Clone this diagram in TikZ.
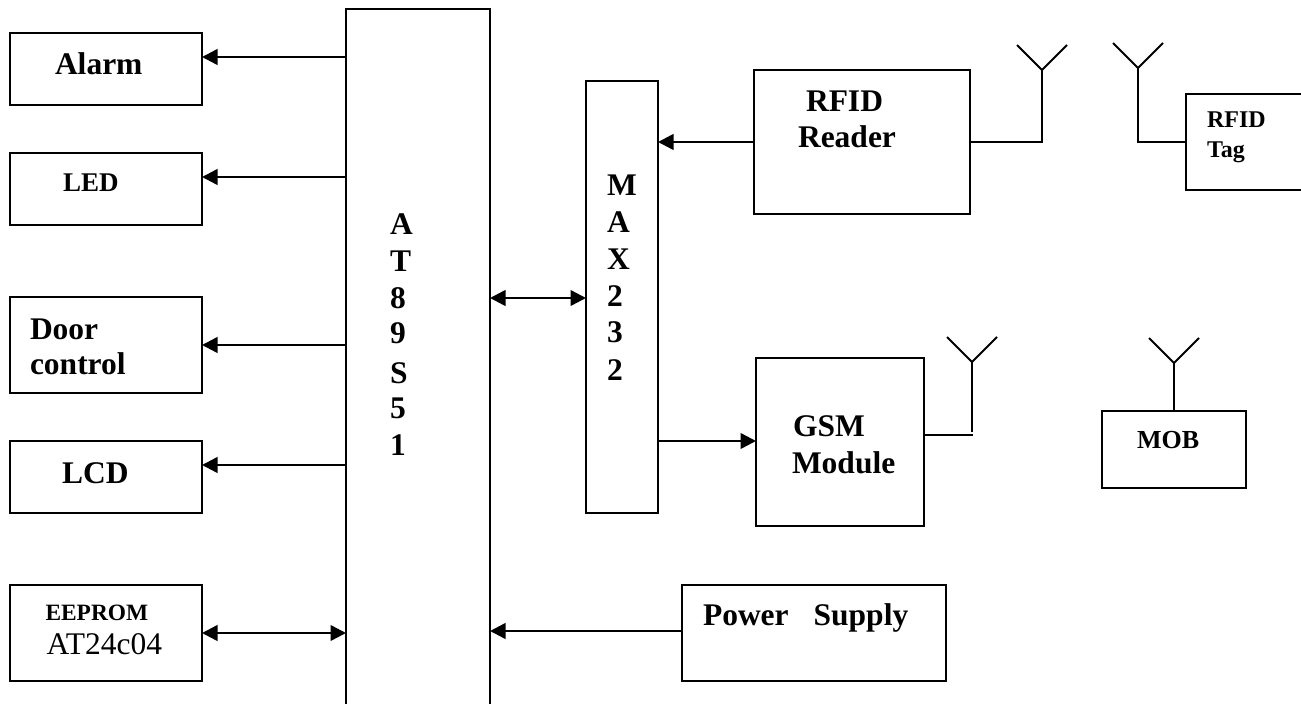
\documentclass[tikz,border=0pt]{standalone}
\usepackage{fontspec}
\setmainfont{Liberation Serif}
\usetikzlibrary{arrows.meta}
\tikzset{
  block/.style={draw=black,line width=2pt,minimum width=#1,inner sep=0pt,outer sep=0pt},
  ghost/.style={inner sep=0pt,outer sep=0pt},
  arr/.style={line width=2.5pt,-{Triangle[length=15.5pt,width=15.5pt]}},
  biarr/.style={line width=2.5pt,{Triangle[length=15.5pt,width=15.5pt]}-{Triangle[length=15.5pt,width=15.5pt]}},
  wire/.style={line width=2pt,line join=miter},
  txt/.style={anchor=base west,inner sep=0pt,outer sep=0pt,font=\fontsize{31.5}{36}\selectfont\bfseries}
}
\newcommand{\bx}[6]{\node[#6,minimum width=#4pt-#2pt,minimum height=#5pt-#3pt,anchor=north west] (#1) at (#2,#3) {};}
\begin{document}
\begin{tikzpicture}[x=1pt,y=-1pt]
\useasboundingbox (0,0) rectangle (1301,704);
% blocks
\bx{alarm}{10}{33}{202}{105}{block=10pt}
\bx{led}{10}{153}{202}{225}{block=10pt}
\bx{door}{10}{297}{202}{393}{block=10pt}
\bx{lcd}{10}{441}{202}{513}{block=10pt}
\bx{eeprom}{10}{585}{202}{681}{block=10pt}
\bx{max}{586}{81}{658}{513}{block=10pt}
\bx{reader}{754}{70}{970}{214}{block=10pt}
\bx{gsm}{756}{358}{924}{526}{block=10pt}
\bx{power}{682}{585}{946}{681}{block=10pt}
\bx{mob}{1102}{411}{1246}{488}{block=10pt}
% open shapes
\bx{mcu}{346}{9}{490}{704}{ghost}
\draw[wire] (mcu.south west) |- (mcu.north east) -- (mcu.south east);
\bx{tag}{1186}{94}{1301}{190}{ghost}
\draw[wire] (tag.north east) -| (tag.south west) -- (tag.south east);
% labels
\node[txt] (tAlarm) at (55,74) {Alarm};
\node[txt,font=\fontsize{27}{30}\selectfont\bfseries] (tLed) at (63,191) {LED};
\node[txt] (tDoor) at (30,339) {Door};
\node[txt] (tControl) at (30,374) {control};
\node[txt] (tLcd) at (62,483) {LCD};
\node[txt,font=\fontsize{23.4}{26}\selectfont\bfseries] (tEeprom) at (45.5,620) {EEPROM};
\node[txt,font=\fontsize{31.5}{36}\selectfont] (tAt) at (46.5,654) {AT24c04};
\foreach \c/\y/\n in {A/234/a,T/271/b,8/308/c,9/343/d,S/383/e,5/418/f,1/455/g}
  \node[txt] (mcu\n) at (390,\y) {\c};
\foreach \c/\y/\n in {M/195/a,A/232/b,X/269/c,2/306/d,3/342/e,2/380/f}
  \node[txt] (max\n) at (607,\y) {\c};
\node[txt] (tRfid) at (806,111) {RFID};
\node[txt] (tReader) at (798,147) {Reader};
\node[txt] (tGsm) at (793,436) {GSM};
\node[txt] (tModule) at (792,473) {Module};
\node[txt] (tPower) at (703,625) {Power\hspace{25pt}Supply};
\node[txt,font=\fontsize{24}{28}\selectfont\bfseries] (tTag1) at (1207,127) {RFID};
\node[txt,font=\fontsize{24}{28}\selectfont\bfseries] (tTag2) at (1207,157) {Tag};
\node[txt,font=\fontsize{26}{30}\selectfont\bfseries] (tMob) at (1137,448) {MOB};
% arrows
\draw[arr] (mcu.west |- 0,57) -- (alarm.east |- 0,57);
\draw[arr] (mcu.west |- 0,177) -- (led.east |- 0,177);
\draw[arr] (mcu.west |- 0,345) -- (door.east |- 0,345);
\draw[arr] (mcu.west |- 0,465) -- (lcd.east |- 0,465);
\draw[biarr] (eeprom.east |- 0,633) -- (mcu.west |- 0,633);
\draw[biarr] (mcu.east |- 0,298) -- (max.west |- 0,298);
\draw[arr] (power.west |- 0,631) -- (mcu.east |- 0,631);
\draw[arr] (reader.west |- 0,142) -- (max.east |- 0,142);
\draw[arr] (max.east |- 0,441) -- (gsm.west |- 0,441);
% antennas
\coordinate (ra) at (1042,70);
\coordinate (ta) at (1138,68);
\coordinate (ga) at (972,362);
\coordinate (ma) at (1174,363);
\draw[wire] (reader.east |- 0,142) -| (ra);
\draw[wire] (tag.west |- 0,142) -| (ta);
\draw[wire] (ga) -- (ga |- 0,432);
\draw[wire] (gsm.east |- 0,435) -- (973,435);
\draw[wire] (ma) -- (ma |- mob.north);
\foreach \p in {ra,ta,ga,ma}
  \draw[wire] ([shift={(-25,-25)}]\p) -- (\p) -- ([shift={(25,-25)}]\p);
\end{tikzpicture}
\end{document}
